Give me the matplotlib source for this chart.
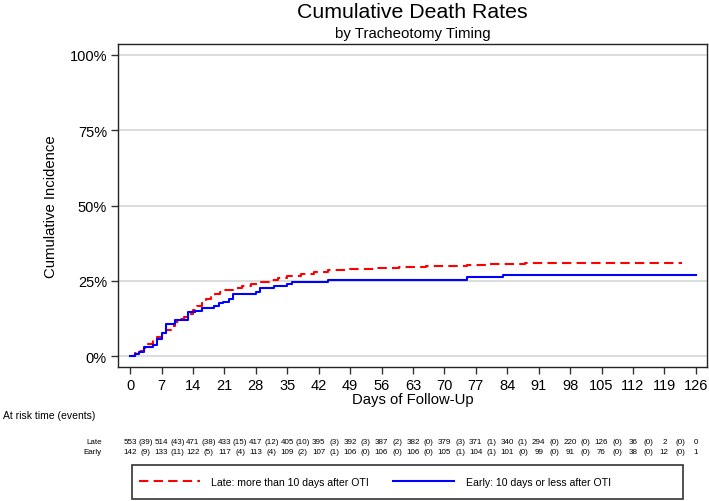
import matplotlib
matplotlib.use('Agg')
import matplotlib.pyplot as plt
from matplotlib.patches import Rectangle
import numpy as np

plt.rcParams['font.family'] = ['Liberation Sans', 'DejaVu Sans']

# Kurven (Tage, kumulative Inzidenz in %)
late_t = [0, 1, 2, 3, 4, 5, 6, 7, 8, 9, 10, 11, 12, 13, 14, 15, 16, 17, 18, 19, 20,
          21, 23, 25, 27, 29, 31, 33, 35, 38, 41, 44, 49, 55, 60, 66, 75, 80, 88, 123]
late_v = [0, 1.0, 1.8, 2.8, 4.0, 5.2, 6.3, 7.5, 8.8, 10.0, 11.2, 12.2, 13.0, 14.0, 15.2,
          16.5, 17.6, 18.8, 19.8, 20.6, 21.3, 21.9, 22.6, 23.3, 24.0, 24.6, 25.4, 26.0,
          26.7, 27.4, 28.0, 28.5, 28.9, 29.3, 29.6, 29.9, 30.2, 30.5, 30.8, 30.8]
early_t = [0, 1, 2, 3, 5, 6, 7, 8, 10, 13, 14.5, 16, 18.6, 19.7, 20.8, 22, 23, 28, 29,
           32, 35, 36, 44, 75, 83, 126]
early_v = [0, 0.7, 1.4, 2.9, 3.6, 5.8, 7.7, 10.5, 12.0, 14.5, 15.1, 15.9, 16.7, 17.5,
           18.1, 18.9, 20.6, 21.4, 22.5, 23.2, 23.9, 24.7, 25.3, 26.1, 26.9, 26.9]

# Risikotabelle
ticks = list(range(0, 127, 7))
late_risk = [553, 514, 471, 433, 417, 405, 395, 392, 387, 382, 379, 371, 340, 294, 220, 126, 36, 2, 0]
late_events = [39, 43, 38, 15, 12, 10, 3, 3, 2, 0, 3, 1, 1, 0, 0, 0, 0, 0]
early_risk = [142, 133, 122, 117, 113, 109, 107, 106, 106, 106, 105, 104, 101, 99, 91, 76, 38, 12, 1]
early_events = [9, 11, 5, 4, 4, 2, 1, 0, 0, 0, 1, 1, 0, 0, 0, 0, 0, 0]

labels = ['Late: more than 10 days after OTI', 'Early: 10 days or less after OTI']

fig = plt.figure(figsize=(7.09, 5.02), dpi=100)
ax = fig.add_axes([118/709, 1 - 368/502, (707-118)/709, (368-45)/502])

for y in [0, 25, 50, 75, 100]:
    ax.axhline(y, color='#dcdcdc', lw=1.4, zorder=0)

l1, = ax.step(late_t, late_v, where='post', color='#ff0000', lw=1.5, dashes=(4.5, 2.5))
l2, = ax.step(early_t, early_v, where='post', color='#0000ff', lw=1.5)

ax.set_xlim(-2.7, 128.5)
ax.set_ylim(-3.65, 103.65)
ax.set_xticks(ticks)
ax.set_yticks([0, 25, 50, 75, 100])
ax.set_yticklabels(['0%', '25%', '50%', '75%', '100%'])
ax.tick_params(labelsize=10.5, length=5, width=1, color='#333333', pad=3)
for s in ax.spines.values():
    s.set_color('#222222')
    s.set_linewidth(1)

ax.set_xlabel('Days of Follow-Up', fontsize=10.7, labelpad=0)
ax.set_ylabel('Cumulative Incidence', fontsize=10.7, labelpad=8)

fig.text(0.582, 1 - 13/502, 'Cumulative Death Rates', ha='center', va='center', fontsize=15.3)
fig.text(0.582, 1 - 34/502, 'by Tracheotomy Timing', ha='center', va='center', fontsize=10.8)

# Risikotabelle unter der Achse
fig.text(3/709, 1 - 416/502, 'At risk time (events)', ha='left', va='center', fontsize=7.5)
inv = fig.transFigure.inverted()
rows = [('Late', late_risk, late_events, 443), ('Early', early_risk, early_events, 453)]
for name, risk, ev, ypx in rows:
    yf = 1 - ypx/502
    fig.text(102/709, yf, name, ha='right', va='center', fontsize=5.8)
    for i, t in enumerate(ticks):
        xf = inv.transform(ax.transData.transform((t, 0)))[0]
        fig.text(xf, yf, str(risk[i]), ha='center', va='center', fontsize=5.8)
        if i < len(ev):
            xm = inv.transform(ax.transData.transform((t + 3.5, 0)))[0]
            fig.text(xm, yf, '(%d)' % ev[i], ha='center', va='center', fontsize=5.8)

# Legende mit eigenem Rahmen
fig.patches.append(Rectangle((132/709, 1 - 500/502), (683-132)/709, 34/502,
                             transform=fig.transFigure, fill=False,
                             edgecolor='#333333', lw=1.2))
leg = fig.legend([l1, l2], labels, ncol=2, loc='center left',
                 bbox_to_anchor=(139/709, 1 - 483/502), fontsize=7.6,
                 handlelength=5.75, handletextpad=1.1, columnspacing=2.3,
                 frameon=False, borderpad=0, borderaxespad=0)

fig.savefig('out.png', dpi=100)
